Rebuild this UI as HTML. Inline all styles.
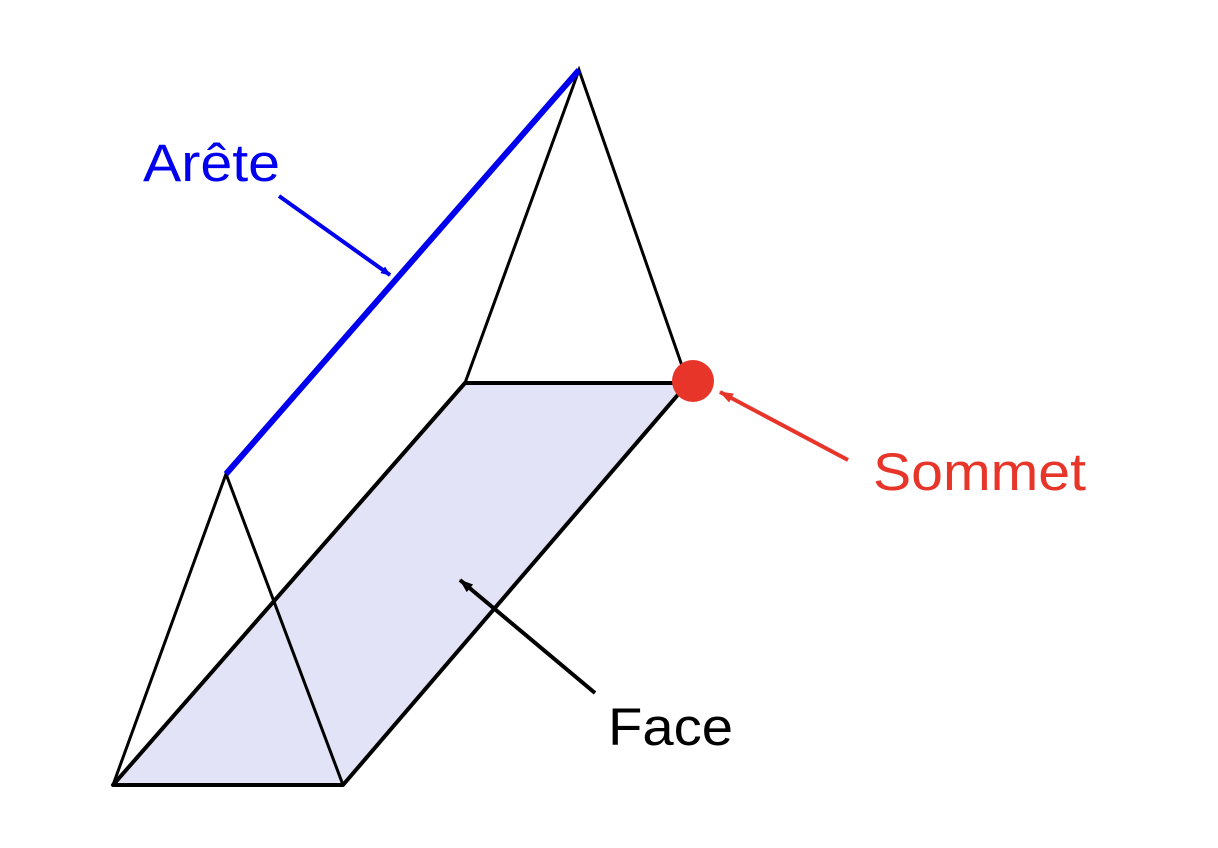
<!DOCTYPE html>
<html><head><meta charset="utf-8"><style>
html,body{margin:0;padding:0;background:#fff;}
svg{display:block;}
text{font-family:"Liberation Sans",sans-serif;font-size:53px;}
</style></head><body>
<svg width="1218" height="848" viewBox="0 0 1218 848" xmlns="http://www.w3.org/2000/svg">
<defs>
<marker id="ab" markerWidth="10" markerHeight="8" refX="9" refY="4" orient="auto" markerUnits="userSpaceOnUse"><path d="M0,0 L10,4 L0,8 z" fill="#0000ee"/></marker>
<marker id="ar" markerWidth="14" markerHeight="10" refX="13" refY="5" orient="auto" markerUnits="userSpaceOnUse"><path d="M0,0 L14,5 L0,10 z" fill="#e8352a"/></marker>
<marker id="ak" markerWidth="14" markerHeight="10" refX="13" refY="5" orient="auto" markerUnits="userSpaceOnUse"><path d="M0,0 L14,5 L0,10 z" fill="#000"/></marker>
</defs>
<polygon points="113,785 343,785 688,383 465,383" fill="#e2e3f7" stroke="#000" stroke-width="4" stroke-linejoin="round"/>
<polyline points="113,785 226,474 343,785" fill="none" stroke="#000" stroke-width="3"/>
<polyline points="465,383 579,70 688,383" fill="none" stroke="#000" stroke-width="3"/>
<line x1="226" y1="474" x2="579" y2="70" stroke="#0000ee" stroke-width="6"/>
<circle cx="693" cy="381" r="21" fill="#e8352a"/>
<line x1="279" y1="196" x2="390" y2="275" stroke="#0000ee" stroke-width="4" marker-end="url(#ab)"/>
<line x1="848" y1="460" x2="720" y2="392" stroke="#e8352a" stroke-width="4" marker-end="url(#ar)"/>
<line x1="595" y1="693" x2="460" y2="580" stroke="#000" stroke-width="4" marker-end="url(#ak)"/>
<text x="143" y="181" fill="#0000ee" textLength="137" lengthAdjust="spacingAndGlyphs">Arête</text>
<text x="873" y="490" fill="#e8352a" textLength="213" lengthAdjust="spacingAndGlyphs">Sommet</text>
<text x="608" y="745" fill="#000" textLength="125" lengthAdjust="spacingAndGlyphs">Face</text>
</svg>
</body></html>
